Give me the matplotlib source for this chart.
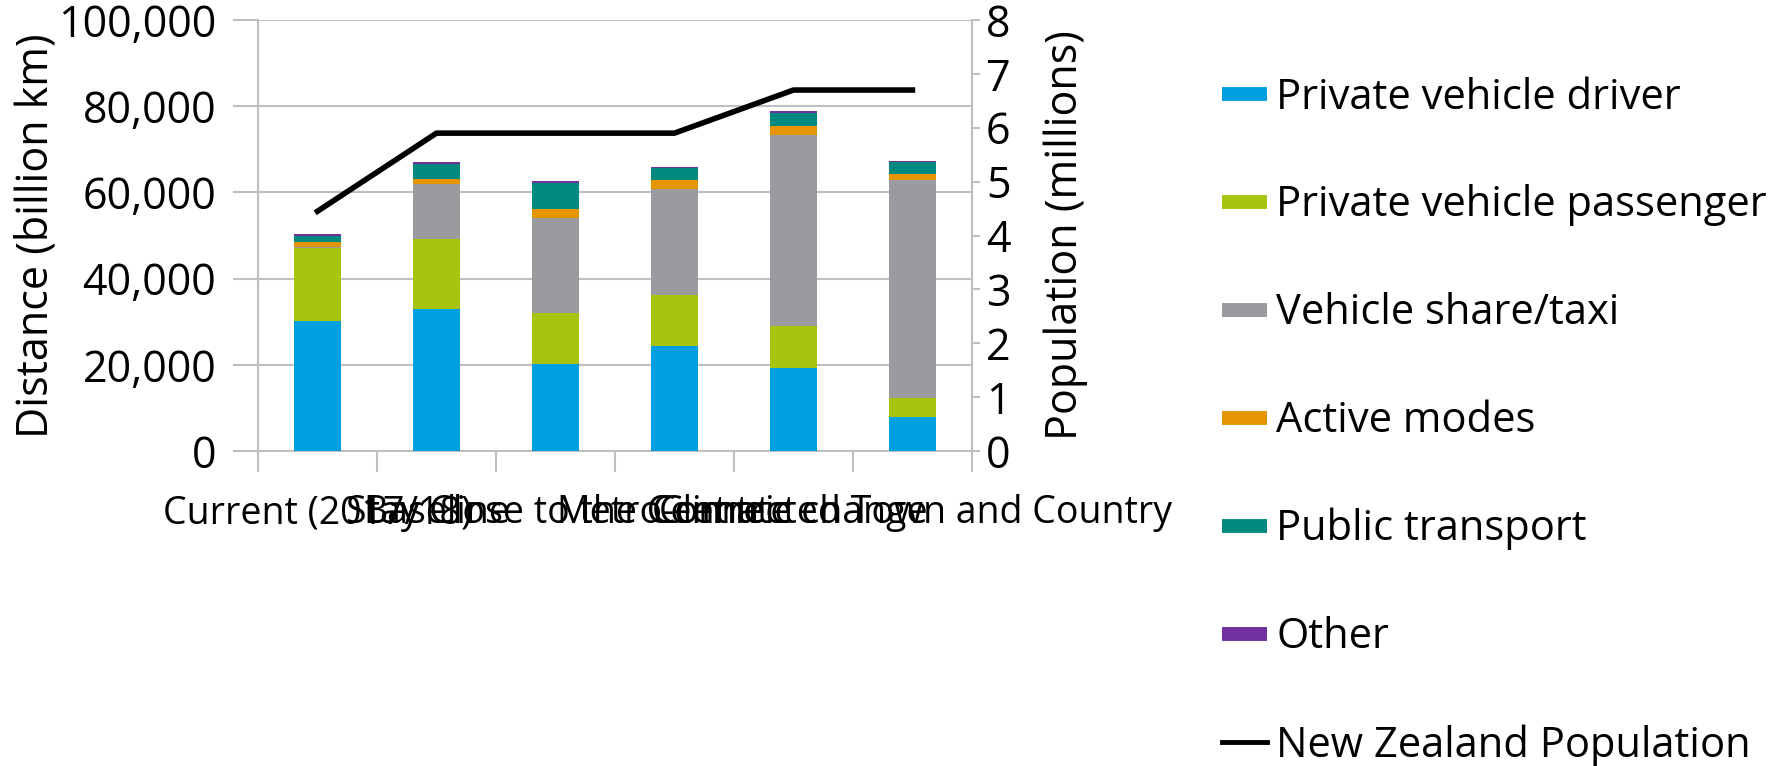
import matplotlib
matplotlib.use("Agg")
import matplotlib.pyplot as plt
import numpy as np
from matplotlib.lines import Line2D
from matplotlib.ticker import FuncFormatter

plt.rcParams['font.family'] = ['Open Sans', 'DejaVu Sans']

scenarios = ["Current (2017/18)", "Baseline", "Stay Close to the Centre",
             "Metro-centric", "Climate change", "Connected Town and Country"]

driver = [30.2, 33.0, 20.2, 24.3, 19.2, 8.0]
passenger = [16.8, 16.2, 11.8, 11.9, 9.8, 4.3]
share_taxi = [0.3, 12.7, 22.0, 24.6, 44.4, 50.5]
active = [1.1, 1.2, 2.1, 2.0, 1.9, 1.5]
public = [1.4, 3.4, 6.1, 2.8, 3.1, 2.7]
other = [0.5, 0.5, 0.4, 0.4, 0.4, 0.4]
population = [4.45, 5.9, 5.9, 5.9, 6.7, 6.7]

series = [
    ("Private vehicle driver", driver, "#009FDF"),
    ("Private vehicle passenger", passenger, "#A8C40F"),
    ("Vehicle share/taxi", share_taxi, "#9A9B9F"),
    ("Active modes", active, "#E59500"),
    ("Public transport", public, "#00897F"),
    ("Other", other, "#7030A0"),
]

grid_c = "#BFBFBF"
fs = 31
legend_fs = 30

fig = plt.figure(figsize=(17.73, 7.66), dpi=100)
ax = fig.add_axes([0.1455, 0.4112, 0.5482 - 0.1455, 0.9739 - 0.4112])

x = np.arange(len(scenarios))
bottom = np.zeros(len(scenarios))
handles = []
for name, vals, col in series:
    v = np.array(vals) * 1000
    ax.bar(x, v, width=0.4, bottom=bottom, color=col, zorder=3)
    bottom += v
    handles.append(Line2D([], [], color=col, lw=10, solid_capstyle='butt', label=name))

ax.set_xlim(-0.5, len(scenarios) - 0.5)
ax.set_ylim(0, 100000)
ax.set_yticks(np.arange(0, 100001, 20000))
ax.yaxis.set_major_formatter(FuncFormatter(lambda v, p: f"{int(v):,}"))
ax.grid(axis='y', color=grid_c, lw=1.5, zorder=0)
ax.tick_params(axis='y', direction='out', length=18, width=1.5, color=grid_c,
               labelsize=fs, pad=12)
ax.set_xticks(x)
ax.set_xticklabels(scenarios, fontsize=27)
ax.set_xticks(np.arange(-0.5, len(scenarios)), minor=True)
ax.tick_params(axis='x', which='major', length=0, pad=31)
ax.tick_params(axis='x', which='minor', direction='out', length=15, width=1.5, color=grid_c)
ax.spines['top'].set_visible(False)
for s in ['left', 'bottom', 'right']:
    ax.spines[s].set_color(grid_c)
    ax.spines[s].set_linewidth(1.5)
ax.set_ylabel("Distance (billion km)", fontsize=fs, labelpad=0)

ax2 = ax.twinx()
ax2.plot(x, population, color='black', lw=4, zorder=5)
ax2.set_ylim(0, 8)
ax2.set_yticks(np.arange(0, 9, 1))
ax2.tick_params(axis='y', direction='out', length=6, width=1.5, color=grid_c,
                labelsize=fs, pad=4)
for s in ['top', 'left', 'bottom']:
    ax2.spines[s].set_visible(False)
ax2.spines['right'].set_color(grid_c)
ax2.spines['right'].set_linewidth(1.5)
ax2.set_ylabel("Population (millions)", fontsize=fs, labelpad=24)

handles.append(Line2D([], [], color='black', lw=3.5, label="New Zealand Population"))
fig.legend(handles=handles, loc='upper left', bbox_to_anchor=(0.6894, 0.900),
           frameon=False, fontsize=legend_fs, handlelength=1.08, handletextpad=0.22,
           labelspacing=1.58, borderpad=0, borderaxespad=0)

fig.savefig("out.png", dpi=100)
